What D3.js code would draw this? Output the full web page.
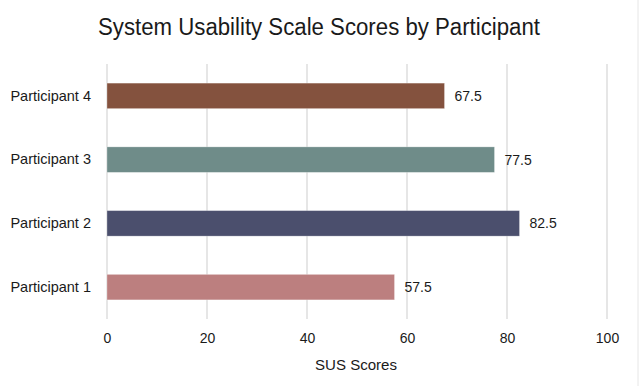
<!DOCTYPE html>
<html>
<head>
<meta charset="utf-8">
<script src="https://cdn.jsdelivr.net/npm/d3@7"></script>
<style>
  body { margin: 0; background: #fff; }
  text { font-family: "Liberation Sans", Arial, sans-serif; fill: #1a1a1a; }
</style>
</head>
<body>
<svg id="chart" width="639" height="386"></svg>
<script>
const participants = ['Participant 1', 'Participant 2', 'Participant 3', 'Participant 4']
const susScores = [57.5, 82.5, 77.5, 67.5]
const barColors = ['#bc7f7f', '#4b4f6d', '#6f8c89', '#84523e']
const xTicks = [0, 20, 40, 60, 80, 100]

const margin = { top: 64, right: 32, bottom: 67, left: 107 }
const width = 639
const height = 386

const svg = d3.select('#chart')

const data = participants.map((p, i) => ({ name: p, score: susScores[i], color: barColors[i] }))

const xScale = d3.scaleLinear()
  .domain([0, 100])
  .range([margin.left, width - margin.right])

const yScale = d3.scaleBand()
  .domain(participants.slice().reverse())
  .range([margin.top, height - margin.bottom])
  .paddingInner(0.6)
  .paddingOuter(0.3)

// gridlines
svg.append('g')
  .selectAll('line')
  .data(xTicks)
  .join('line')
  .attr('x1', d => xScale(d))
  .attr('x2', d => xScale(d))
  .attr('y1', margin.top)
  .attr('y2', height - margin.bottom)
  .attr('stroke', '#d9d9d9')
  .attr('stroke-width', 1.3)

// bars
svg.append('g')
  .selectAll('rect')
  .data(data)
  .join('rect')
  .attr('x', xScale(0))
  .attr('y', d => yScale(d.name))
  .attr('width', d => xScale(d.score) - xScale(0))
  .attr('height', yScale.bandwidth())
  .attr('fill', d => d.color)
  .attr('stroke', '#ffffff')
  .attr('stroke-opacity', 0.35)
  .attr('stroke-width', 0.8)

// value labels
svg.append('g')
  .selectAll('text')
  .data(data)
  .join('text')
  .attr('x', d => xScale(d.score) + 10)
  .attr('y', d => yScale(d.name) + yScale.bandwidth() / 2)
  .attr('dy', '0.35em')
  .attr('font-size', 14)
  .text(d => d.score)

// y axis labels
const leftAxis = d3.axisLeft(yScale).tickSize(0).tickPadding(16)
const yAxis = svg.append('g')
  .attr('transform', `translate(${margin.left}, 0)`)
  .call(leftAxis)
yAxis.select('.domain').remove()
yAxis.selectAll('text')
  .attr('font-size', 14.5)
  .attr('font-family', '"Liberation Sans", Arial, sans-serif')
  .attr('fill', '#1a1a1a')

// x axis labels
const bottomAxis = d3.axisBottom(xScale).tickValues(xTicks).tickSize(0).tickPadding(14)
const xAxis = svg.append('g')
  .attr('transform', `translate(0, ${height - margin.bottom})`)
  .call(bottomAxis)
xAxis.select('.domain').remove()
xAxis.selectAll('text')
  .attr('font-size', 14)
  .attr('font-family', '"Liberation Sans", Arial, sans-serif')
  .attr('fill', '#1a1a1a')

// axis title
svg.append('text')
  .attr('x', 356)
  .attr('y', 370)
  .attr('text-anchor', 'middle')
  .attr('font-size', 15.5)
  .attr('textLength', 82)
  .attr('lengthAdjust', 'spacingAndGlyphs')
  .text('SUS Scores')

// title
svg.append('text')
  .attr('x', 319)
  .attr('y', 35)
  .attr('text-anchor', 'middle')
  .attr('font-size', 23)
  .attr('textLength', 442)
  .attr('lengthAdjust', 'spacingAndGlyphs')
  .text('System Usability Scale Scores by Participant')

// faint frame edge on the right
svg.append('line')
  .attr('x1', width - 1).attr('x2', width - 1)
  .attr('y1', 0).attr('y2', height)
  .attr('stroke', '#e6e6e6')
</script>
</body>
</html>
